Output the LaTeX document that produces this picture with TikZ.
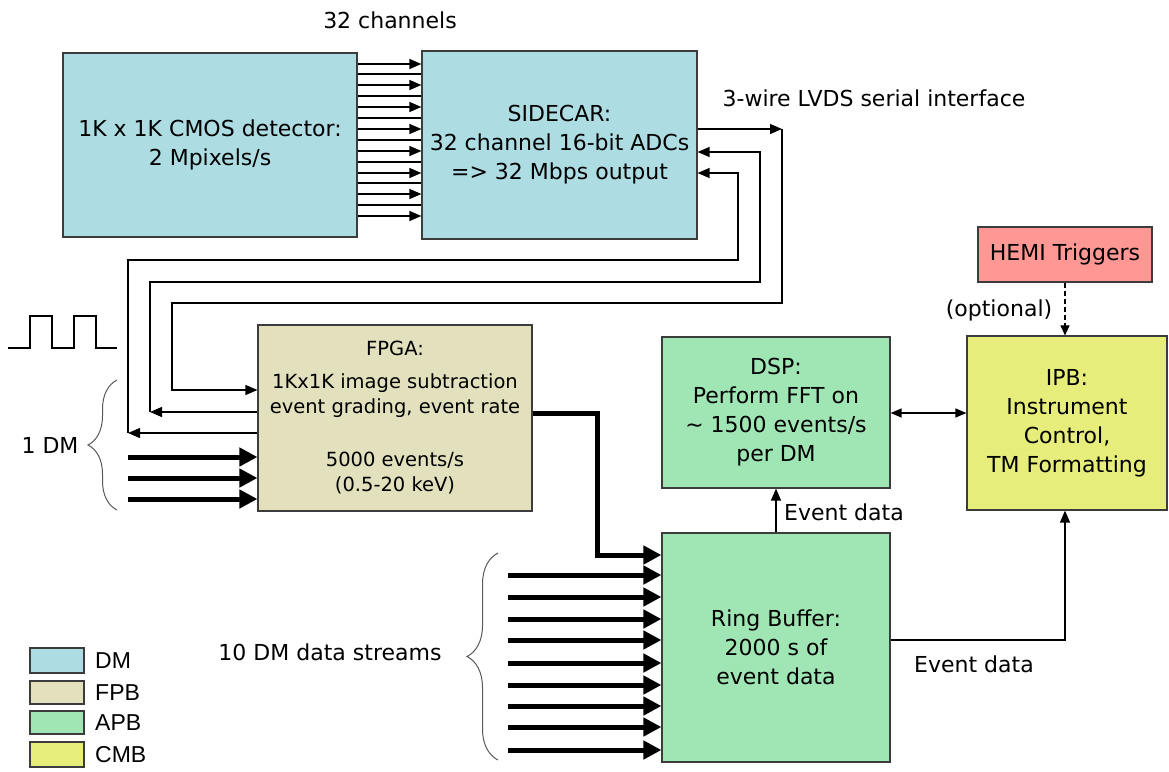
\documentclass[tikz,border=0pt]{standalone}
\usepackage{fontspec}
\setmainfont{DejaVu Sans}
\newfontfamily\legfont{Liberation Sans}
\usetikzlibrary{arrows.meta,decorations.pathreplacing}
\definecolor{dmc}{RGB}{173,221,227}
\definecolor{fpbc}{RGB}{227,225,189}
\definecolor{apbc}{RGB}{160,230,180}
\definecolor{cmbc}{RGB}{230,237,122}
\definecolor{hemic}{RGB}{255,152,148}
\definecolor{edge}{RGB}{60,60,60}
\begin{document}
\begin{tikzpicture}[x=1pt,y=-1pt,
 box/.style={draw=edge, line width=1.2pt, align=center, inner sep=0pt, font=\fontsize{22}{29}\selectfont},
 thin/.style={line width=1.3pt, -{Triangle[length=12pt,width=10pt]}},
 plain/.style={line width=1.3pt},
 fat/.style={line width=5pt, -{Triangle[length=18pt,width=18pt]}},
 lbl/.style={font=\fontsize{22}{29}\selectfont, inner sep=0pt},
 brc/.style={draw=black!65, line width=1pt, decorate, decoration={brace, amplitude=29pt}},
 leg/.style={draw=edge, line width=1.2pt, minimum width=54pt, inner sep=0pt},
 legt/.style={font=\legfont\fontsize{23}{23}\selectfont, anchor=west, inner sep=0pt}]
\useasboundingbox (0,0) rectangle (1169,771);

% boxes
\node[box, fill=dmc, minimum width=294pt, minimum height=184pt] (cmos) at (210,145) {1K x 1K CMOS detector:\\2 Mpixels/s};
\node[box, fill=dmc, minimum width=275pt, minimum height=188pt] (side) at (559.5,145) {SIDECAR:\\32 channel 16-bit ADCs\\=> 32 Mbps output};
\node[box, fill=fpbc, minimum width=274pt, minimum height=186pt, font=\fontsize{19.5}{25}\selectfont] (fpga) at (395,418) {FPGA:\\[8pt]1Kx1K image subtraction\\event grading, event rate\\[28pt]5000 events/s\\(0.5-20 keV)};
\node[box, fill=apbc, minimum width=228pt, minimum height=151pt] (dsp) at (776,412.5) {DSP:\\Perform FFT on\\\textasciitilde{} 1500 events/s\\per DM};
\node[box, fill=cmbc, minimum width=200pt, minimum height=174pt] (ipb) at (1067,423) {IPB:\\Instrument\\Control,\\TM Formatting};
\node[box, fill=hemic, minimum width=174pt, minimum height=55pt] (hemi) at (1065,254.5) {HEMI Triggers};
\node[box, fill=apbc, minimum width=228pt, minimum height=229pt] (ring) at (776,647.5) {Ring Buffer:\\2000 s of\\event data};

% 32 channels
\foreach \y in {64,85,107,129,151,173,194,216} {
  \coordinate (t) at (0,\y);
  \draw[thin] (cmos.east |- t) -- (side.west |- t);
}
\foreach \y in {74,96,118,140,162,183,205} {
  \coordinate (t) at (0,\y);
  \draw[plain] (cmos.east |- t) -- (side.west |- t);
}
\node[lbl] (lch) at (390,20) {32 channels};
\node[lbl] (llvds) at (874,98) {3-wire LVDS serial interface};

% loops between SIDECAR and FPGA
\coordinate (p1) at (782,129); \coordinate (p2) at (782,303);
\coordinate (p3) at (172,303); \coordinate (p4) at (172,390);
\draw[thin] (side.east |- p1) -- (p1);
\draw[thin] (p1) -- (p2) -- (p3) -- (p4) -- (fpga.west |- p4);

\coordinate (q1) at (150,412); \coordinate (q2) at (150,282);
\coordinate (q3) at (760,282); \coordinate (q4) at (760,152);
\draw[thin] (fpga.west |- q1) -- (q1);
\draw[thin] (q1) -- (q2) -- (q3) -- (q4) -- (side.east |- q4);

\coordinate (r1) at (128,433); \coordinate (r2) at (128,260);
\coordinate (r3) at (738,260); \coordinate (r4) at (738,173);
\draw[thin] (fpga.west |- r1) -- (r1);
\draw[thin] (r1) -- (r2) -- (r3) -- (r4) -- (side.east |- r4);

% clock
\draw[plain] (8,348) -- (30,348) -- (30,316) -- (52,316) -- (52,348) -- (74,348) -- (74,316) -- (96,316) -- (96,348) -- (117,348);

% 1 DM inputs
\foreach \y in {457,478,499} {
  \coordinate (t) at (128,\y);
  \draw[fat] (t) -- (fpga.west |- t);
}
\draw[brc] (117,510) -- (117,380);
\node[lbl] (l1dm) at (50,445) {1 DM};

% FPGA to ring buffer
\coordinate (s1) at (597,413); \coordinate (s2) at (597,555);
\draw[fat, line join=miter] (fpga.east |- s1) -- (s1) -- (s2) -- (ring.west |- s2);

% 10 DM streams
\foreach \y in {575,597,619,640,663,685,706,727,750} {
  \coordinate (t) at (508,\y);
  \draw[fat] (t) -- (ring.west |- t);
}
\draw[brc, decoration={brace, amplitude=31pt}] (498,760) -- (498,553);
\node[lbl] (l10) at (330,652) {10 DM data streams};

% ring to DSP and IPB
\draw[thin] (ring.north) -- (dsp.south);
\node[lbl] (led1) at (844,512) {Event data};
\coordinate (u1) at (1065,640);
\draw[thin] (ring.east |- u1) -- (u1) -- (ipb.south -| u1);
\node[lbl] (led2) at (974,664) {Event data};

% DSP <-> IPB
\coordinate (v1) at (0,413);
\draw[line width=1.3pt, {Triangle[length=11pt,width=9pt]}-{Triangle[length=11pt,width=9pt]}] (dsp.east |- v1) -- (ipb.west |- v1);

% HEMI -> IPB
\draw[line width=1.1pt, dash pattern=on 5pt off 3pt, -{Triangle[length=10pt,width=9pt]}] (hemi.south) -- (ipb.north -| hemi.south);
\node[lbl] (lopt) at (999,310) {(optional)};

% legend
\node[leg, fill=dmc, minimum height=25pt] (gdm) at (57,660.5) {};
\node[leg, fill=fpbc, minimum height=23pt] (gfpb) at (57,692.5) {};
\node[leg, fill=apbc, minimum height=23pt] (gapb) at (57,722.5) {};
\node[leg, fill=cmbc, minimum height=25pt] (gcmb) at (57,754.5) {};
\node[legt] (tdm) at (95,660.5) {DM};
\node[legt] (tfpb) at (95,692.5) {FPB};
\node[legt] (tapb) at (95,722.5) {APB};
\node[legt] (tcmb) at (95,754.5) {CMB};
\end{tikzpicture}
\end{document}
